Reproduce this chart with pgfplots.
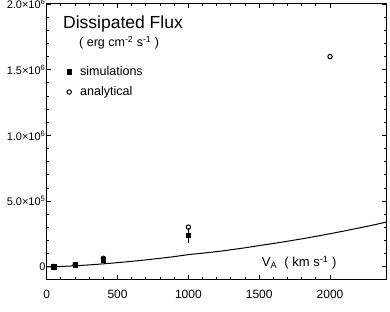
\documentclass[border=0pt]{standalone}
\usepackage{fontspec}
\setmainfont{Liberation Sans}
\usepackage{pgfplots}
\pgfplotsset{compat=1.18}
\begin{document}
\begin{tikzpicture}
\begin{axis}[name=ax, scale only axis, width=340pt, height=276pt,
  xmin=0, xmax=2400, ymin=-1e5, ymax=2e6,
  xtick={0,500,1000,1500,2000}, xticklabels={0,500,1000,1500,2000},
  ytick={0,5e5,1e6,1.5e6,2e6},
  yticklabels={0,{5.0×10\textsuperscript{5}},{1.0×10\textsuperscript{6}},{1.5×10\textsuperscript{6}},{2.0×10\textsuperscript{6}}},
  minor x tick num=4, minor y tick num=4,
  tick align=inside, major tick length=4.5pt, minor tick length=2.5pt,
  axis line style={line width=1pt},
  every tick/.style={black, line width=0.8pt},
  xticklabel style={font=\fontsize{12}{13}\selectfont, yshift=-7pt},
  yticklabel style={font=\fontsize{11}{12}\selectfont, inner sep=1pt},
  scaled ticks=false,
  legend style={at={(rel axis cs:0,1)}, anchor=north west, xshift=20pt, yshift=-60pt,
    draw=none, fill=none, font=\fontsize{12.5}{14}\selectfont, row sep=6pt,
    inner sep=0pt, nodes={inner sep=2pt}},
  legend cell align=left,
  legend image code/.code={\path[draw=none,fill=none] (0pt,-1pt) rectangle (11pt,1pt);
    \draw[mark repeat=2,mark phase=2] plot coordinates {(0pt,0pt)(2pt,0pt)(10pt,0pt)};},
]
\addplot[only marks, mark=square*, mark size=2.3pt, black,
  error bars/.cd, y dir=both, y explicit, error bar style={line width=1pt}, error mark=none]
  coordinates {(50,3e3) +- (0,8e3) (200,1.8e4) +- (0,1e4) (400,5.5e4) +- (0,2.2e4) (1000,2.4e5) +- (0,5.5e4)};
\addlegendentry{simulations}
\addplot[only marks, mark=o, mark size=2.2pt, black, mark options={line width=1pt}]
  coordinates {(50,3e3) (200,1.6e4) (400,6.5e4) (1000,3.02e5) (2000,1.6e6)};
\addlegendentry{analytical}
\addplot[black, line width=1pt, smooth, forget plot] coordinates {
  (0,0) (100,3e3) (200,8e3) (300,1.5e4) (400,2.3e4) (500,3.2e4) (600,4.2e4)
  (700,5.3e4) (800,6.5e4) (900,7.8e4) (1000,9.3e4) (1100,1.04e5) (1200,1.16e5)
  (1300,1.3e5) (1400,1.45e5) (1500,1.62e5) (1600,1.78e5) (1700,1.95e5)
  (1800,2.13e5) (1900,2.32e5) (2000,2.52e5) (2100,2.73e5) (2200,2.95e5)
  (2300,3.17e5) (2400,3.42e5)};
\node[anchor=base west, inner sep=0pt, font=\fontsize{17.5}{19}\selectfont] at (axis cs:115,1.815e6) {Dissipated Flux};
\node[anchor=base west, inner sep=0pt, font=\fontsize{12.5}{14}\selectfont] at (axis cs:228,1.675e6) {( erg cm\textsuperscript{-2} s\textsuperscript{-1} )};
\node[anchor=base west, inner sep=0pt, font=\fontsize{13}{14}\selectfont] at (axis cs:1518,0) {V\textsubscript{A}\ \ ( km s\textsuperscript{-1} )};
\end{axis}
\pgfresetboundingbox
\path ([xshift=-46.7pt,yshift=-32pt]ax.south west) rectangle ([xshift=3.3pt,yshift=4pt]ax.north east);
\end{tikzpicture}
\end{document}
